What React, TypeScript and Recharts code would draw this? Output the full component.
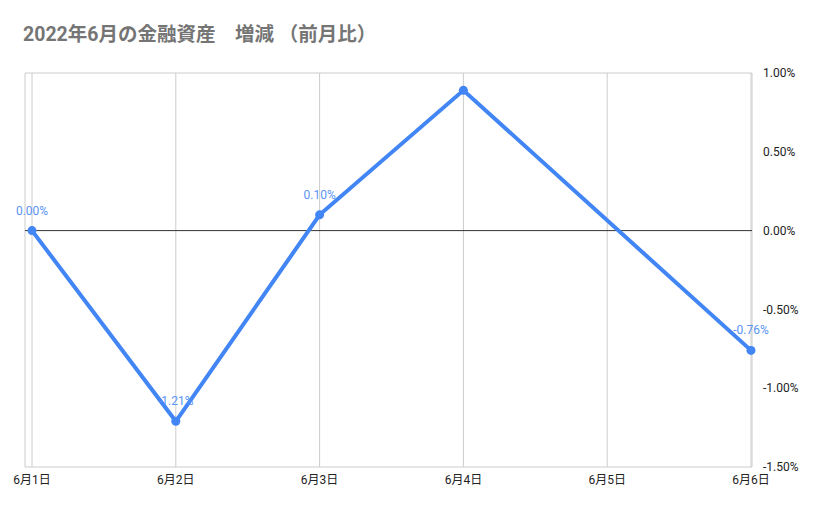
import { LineChart, Line, XAxis, YAxis, CartesianGrid, ReferenceLine, LabelList } from 'recharts';

const days = ['6月1日', '6月2日', '6月3日', '6月4日', '6月5日', '6月6日'];
const changes: (number | null)[] = [0.0, -1.21, 0.1, 0.89, null, -0.76];
const pointLabels = ['0.00%', '-1.21%', '0.10%', '', '', '-0.76%'];
const yTicks = [-1.5, -1.0, -0.5, 0, 0.5, 1.0];

const font = "Roboto, 'Noto Sans CJK JP', sans-serif";

const rows = days.map((d, i) => ({ day: d, value: changes[i], label: pointLabels[i] }));

export default function App() {
  return (
    <div style={{ position: 'absolute', left: 0, top: 0, width: 829, height: 514, background: '#fff', fontFamily: font }}>
      {/* title */}
      <div
        style={{
          position: 'absolute',
          left: 23,
          top: 23,
          fontSize: 19.5,
          fontWeight: 700,
          color: '#757575',
          whiteSpace: 'pre',
          lineHeight: '24px',
        }}
      >
        2022年6月の金融資産　増減 （前月比）
      </div>
      <LineChart width={829} height={514} data={rows} margin={{ top: 73, right: 0, bottom: 17, left: 25 }}>
        <CartesianGrid stroke="#cccccc" />
        <XAxis
          dataKey="day"
          axisLine={false}
          tickLine={false}
          padding={{ left: 7, right: 1 }}
          height={30}
          tick={{ fill: '#222', fontSize: 12, fontFamily: font }}
          interval={0}
        />
        <YAxis yAxisId="left" orientation="left" width={0} domain={[-1.5, 1]} ticks={yTicks} tick={false} tickLine={false} axisLine={{ stroke: '#000' }} />
        <YAxis
          yAxisId="right"
          orientation="right"
          width={77}
          domain={[-1.5, 1]}
          ticks={yTicks}
          axisLine={false}
          tickLine={false}
          tickMargin={5}
          tickFormatter={(v: number) => `${v.toFixed(2)}%`}
          tick={{ fill: '#222', fontSize: 12, fontFamily: font }}
        />
        <ReferenceLine yAxisId="right" y={0} stroke="#333" strokeWidth={1} />
        <Line
          yAxisId="right"
          type="linear"
          dataKey="value"
          stroke="#4285f4"
          strokeWidth={4}
          connectNulls
          dot={{ r: 4.5, fill: '#4285f4', stroke: 'none' }}
          activeDot={false}
          isAnimationActive={false}
        >
          <LabelList dataKey="label" position="top" offset={16} style={{ fill: '#5a94f5', fontSize: 12, fontFamily: font }} />
        </Line>
      </LineChart>
    </div>
  );
}
